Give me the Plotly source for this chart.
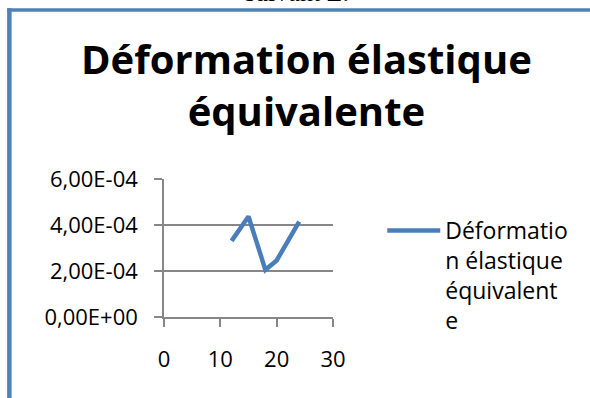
import plotly.graph_objects as go

# Measurement positions along Z and the equivalent elastic strain
positions = [12, 15, 18, 20, 24]
strain = [3.31e-4, 4.37e-4, 2.05e-4, 2.46e-4, 4.15e-4]

y_tick_values = [0, 2e-4, 4e-4, 6e-4]
y_tick_labels = ["0,00E+00", "2,00E-04", "4,00E-04", "6,00E-04"]
x_tick_values = [0, 10, 20, 30]
x_tick_labels = ["0", "10", "20", "30"]

series_name = "Déformatio<br>n élastique<br>équivalent<br>e"
chart_title = "Déformation élastique<br>équivalente"
caption_tail = "suivant Z."

W, H = 590, 398
ML, MR, MT, MB = 163.5, 257.3, 179, 80.7
PW, PH = W - ML - MR, H - MT - MB
BLUE = "#4A7EBB"
GRID = "#878787"
FONT = "Open Sans"


def px_x(px):
    """Horizontal pixel position -> paper fraction."""
    return (px - ML) / PW


def px_y(py):
    """Vertical pixel position (from top) -> paper fraction."""
    return 1 - (py - MT) / PH


fig = go.Figure()
fig.add_trace(go.Scatter(
    x=positions, y=strain, mode="lines", name=series_name,
    line=dict(color=BLUE, width=4.5),
    showlegend=True,
))

fig.update_layout(
    width=W, height=H,
    margin=dict(l=ML, r=MR, t=MT, b=MB, pad=0),
    paper_bgcolor="white", plot_bgcolor="white",
    font=dict(family=FONT, color="#000000", size=22),
    showlegend=True,
    legend=dict(
        x=px_x(382), y=px_y(209), xanchor="left", yanchor="top",
        valign="top", itemwidth=53, tracegroupgap=0,
        font=dict(family=FONT, size=23, color="#000000"),
        bgcolor="rgba(0,0,0,0)", borderwidth=0,
    ),
    xaxis=dict(
        range=[0, 30], tickvals=x_tick_values, ticktext=x_tick_labels,
        showgrid=False, zeroline=False,
        showline=True, linecolor=GRID, linewidth=1.5,
        ticks="outside", ticklen=8, tickwidth=1.5, tickcolor=GRID,
        ticklabelstandoff=14,
        tickfont=dict(family=FONT, size=22, color="#000000"),
    ),
    yaxis=dict(
        range=[0, 6e-4], tickvals=y_tick_values, ticktext=y_tick_labels,
        showgrid=True, gridcolor=GRID, gridwidth=1.5, zeroline=False,
        showline=True, linecolor=GRID, linewidth=1.5,
        ticks="outside", ticklen=8, tickwidth=1.5, tickcolor=GRID,
        ticklabelstandoff=12,
        tickfont=dict(family=FONT, size=22, color="#000000"),
    ),
)

# Chart title
fig.add_annotation(
    text="<b>" + chart_title + "</b>", xref="paper", yref="paper",
    x=px_x(306.5), xanchor="center",
    y=px_y(30), yanchor="top",
    showarrow=False, font=dict(family=FONT, size=40, color="#000000"),
    borderpad=0,
)

# Frame lines around the chart (left and top edges)
fig.add_shape(type="line", xref="paper", yref="paper",
              x0=px_x(8.7), x1=px_x(8.7), y0=px_y(8), y1=px_y(H + 2),
              line=dict(color="#4F81BD", width=4.5))
fig.add_shape(type="line", xref="paper", yref="paper",
              x0=px_x(6.5), x1=px_x(W + 2), y0=px_y(9.7), y1=px_y(9.7),
              line=dict(color="#4F81BD", width=3.5))

# Tail of the surrounding document text, cut by the top edge
fig.add_annotation(
    text=caption_tail, xref="paper", yref="paper",
    x=px_x(296.5), xanchor="center",
    y=px_y(-8.3), yanchor="middle",
    showarrow=False, font=dict(family="Liberation Serif", size=26, color="#000000"),
    borderpad=0,
)

fig.write_html("out.html")
